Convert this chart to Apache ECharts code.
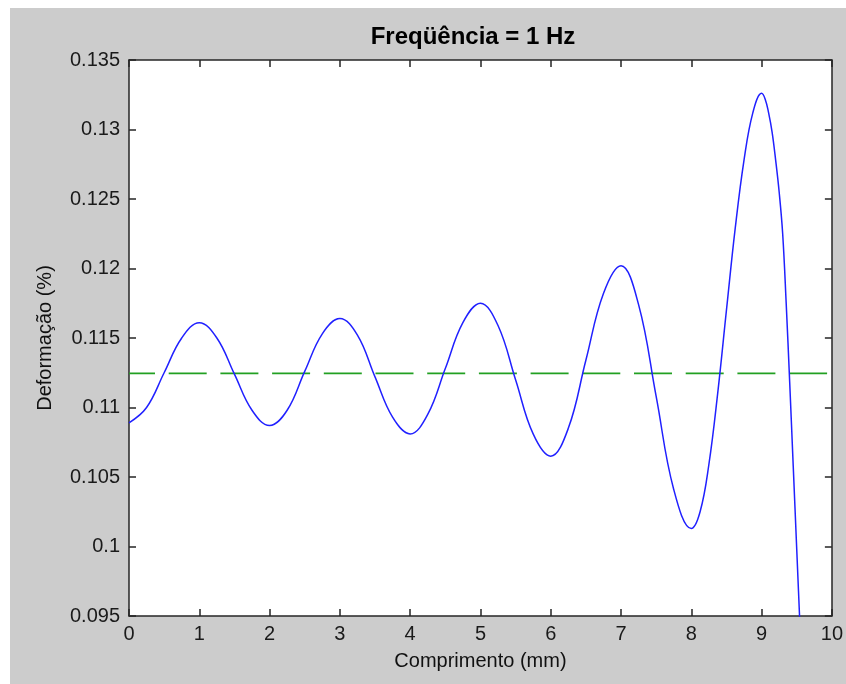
<!DOCTYPE html>
<html>
<head>
<meta charset="utf-8">
<script src="https://cdn.jsdelivr.net/npm/echarts@6/dist/echarts.min.js"></script>
<style>
html,body{margin:0;padding:0;background:#ffffff;width:846px;height:684px;overflow:hidden;}
#chart{position:absolute;left:10px;top:8px;width:836px;height:676px;}
</style>
</head>
<body>
<div id="chart"></div>
<script>
// ---- data ----
const titleText = 'Freqüência = 1 Hz';
const xName = 'Comprimento (mm)';
const yName = 'Deformação (%)';

const xTicks = [0, 1, 2, 3, 4, 5, 6, 7, 8, 9, 10];
const yTicks = [0.095, 0.1, 0.105, 0.11, 0.115, 0.12, 0.125, 0.13, 0.135];

const comprimento = [
  0, 0.25, 0.5, 0.75, 1,
  1.25, 1.5, 1.75, 2,
  2.25, 2.5, 2.75, 3,
  3.25, 3.5, 3.75, 4,
  4.25, 4.5, 4.75, 5,
  5.25, 5.5, 5.75, 6,
  6.25, 6.5, 6.75, 7,
  7.25, 7.5, 7.75, 8,
  8.125, 8.25, 8.375, 8.5, 8.625, 8.75, 8.875, 9,
  9.05, 9.1, 9.15, 9.2, 9.25, 9.3, 9.35, 9.4, 9.45, 9.5, 9.55, 9.6
];
const deformacao = [
  0.1089, 0.1100, 0.1125, 0.1150, 0.1161,
  0.1150, 0.1124, 0.1098, 0.1087,
  0.1098, 0.1126, 0.1153, 0.1164,
  0.1152, 0.1122, 0.1093, 0.1081,
  0.1095, 0.1128, 0.1161, 0.1175,
  0.1159, 0.1120, 0.1081, 0.1065,
  0.1085, 0.1134, 0.1182, 0.1202,
  0.1174, 0.1108, 0.1041, 0.1013,
  0.1025, 0.1059, 0.1110, 0.1170, 0.1229, 0.1278, 0.1312, 0.1326,
  0.1322, 0.1312, 0.1298, 0.1278, 0.1255, 0.1225, 0.1175, 0.1118, 0.1058, 0.0998, 0.0938, 0.0878
];
const mediaX = [0, 10];
const mediaY = [0.11245, 0.11245];

// ---- build ----
const lineData = comprimento.map((x, i) => [x, deformacao[i]]);
const meanData = mediaX.map((x, i) => [x, mediaY[i]]);

const fontFam = '"Liberation Sans", Arial, Helvetica, sans-serif';
const axisCol = '#262626';

const chart = echarts.init(document.getElementById('chart'), null, {renderer: 'canvas'});
chart.setOption({
  backgroundColor: '#cccccc',
  animation: false,
  title: {
    text: titleText,
    left: 458, top: 12, textAlign: 'center',
    textStyle: {fontFamily: fontFam, fontSize: 24, fontWeight: 'bold', color: '#000'}
  },
  grid: {left: 119, top: 52, right: 14, bottom: 68, backgroundColor: '#ffffff', show: true, borderWidth: 0},
  xAxis: [{
    type: 'value', min: xTicks[0], max: xTicks[xTicks.length - 1], interval: 1,
    position: 'bottom',
    name: xName, nameLocation: 'middle', nameGap: 35,
    nameTextStyle: {fontFamily: fontFam, fontSize: 20, color: '#111'},
    axisLine: {show: true, onZero: false, lineStyle: {color: axisCol, width: 1.5}},
    axisTick: {show: true, inside: true, length: 7, lineStyle: {color: axisCol, width: 1.5}},
    axisLabel: {show: true, margin: 8, fontFamily: fontFam, fontSize: 20, color: '#1a1a1a'},
    splitLine: {show: false}
  }, {
    type: 'value', min: xTicks[0], max: xTicks[xTicks.length - 1], interval: 1,
    position: 'top',
    axisLine: {show: true, onZero: false, lineStyle: {color: axisCol, width: 1.5}},
    axisTick: {show: true, inside: true, length: 7, lineStyle: {color: axisCol, width: 1.5}},
    axisLabel: {show: false},
    splitLine: {show: false}
  }],
  yAxis: [{
    type: 'value', min: yTicks[0], max: yTicks[yTicks.length - 1], interval: 0.005,
    position: 'left',
    name: yName, nameLocation: 'middle', nameGap: 74, nameRotate: 90,
    nameTextStyle: {fontFamily: fontFam, fontSize: 20, color: '#111'},
    axisLine: {show: true, onZero: false, lineStyle: {color: axisCol, width: 1.5}},
    axisTick: {show: true, inside: true, length: 7, lineStyle: {color: axisCol, width: 1.5}},
    axisLabel: {show: true, margin: 9, fontFamily: fontFam, fontSize: 20, color: '#1a1a1a',
      formatter: v => String(Math.round(v * 1000) / 1000)},
    splitLine: {show: false}
  }, {
    type: 'value', min: yTicks[0], max: yTicks[yTicks.length - 1], interval: 0.005,
    position: 'right',
    axisLine: {show: true, onZero: false, lineStyle: {color: axisCol, width: 1.5}},
    axisTick: {show: true, inside: true, length: 7, lineStyle: {color: axisCol, width: 1.5}},
    axisLabel: {show: false},
    splitLine: {show: false}
  }],
  series: [{
    type: 'line', name: 'media', data: meanData, showSymbol: false, symbol: 'none',
    clip: true,
    lineStyle: {color: '#22a022', width: 1.7, type: [38, 13.7], dashOffset: 12},
    z: 2
  }, {
    type: 'line', name: 'deformacao', data: lineData, showSymbol: false, symbol: 'none',
    smooth: 0.4, clip: true,
    lineStyle: {color: '#2020ff', width: 1.5},
    z: 3
  }]
});
</script>
</body>
</html>
